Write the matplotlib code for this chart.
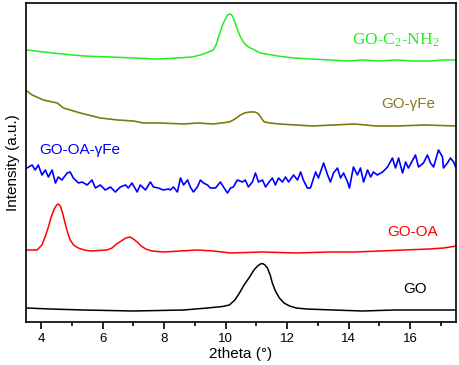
import matplotlib.pyplot as plt
from matplotlib.ticker import MultipleLocator

plt.rcParams['font.family'] = ['Liberation Sans', 'DejaVu Sans']

# XRD patterns, stacked (arbitrary intensity units)
go_x = [3.53, 4.29, 5.37, 7.00, 8.63, 9.41, 9.9, 10.12, 10.3, 10.45, 10.6, 10.78,
        10.92, 11.04, 11.13, 11.20, 11.28, 11.36, 11.45, 11.52, 11.62, 11.75,
        11.9, 12.08, 12.3, 12.63, 13.5, 14.46, 15.5, 17.52]
go_y = [14, 13, 12, 11, 12, 14, 15.5, 17, 22, 29, 37, 45, 52, 56, 58, 58.5, 57,
        54, 47, 39, 31, 24, 19, 16, 14, 13, 12, 11, 12, 12]

oa_x = [3.53, 3.86, 4.02, 4.12, 4.23, 4.32, 4.42, 4.50, 4.55, 4.62, 4.70, 4.78,
        4.86, 4.94, 5.05, 5.20, 5.40, 5.60, 6.14, 6.30, 6.45, 6.60, 6.75, 6.88,
        7.00, 7.12, 7.25, 7.40, 7.60, 7.97, 8.53, 9.07, 9.60, 10.16, 11.2, 12.31,
        13.38, 14.2, 15.01, 15.8, 16.64, 17.1, 17.52]
oa_y = [72, 72, 77, 85, 95, 105, 113, 117, 118, 116, 108, 98, 89, 82, 77, 74,
        72, 71, 72, 74, 78, 81, 84, 85, 83, 80, 76, 73, 71, 70, 71, 72, 71, 69,
        70, 69, 70, 70, 71, 72, 73, 74, 76]

oafe_x = [3.53, 3.70, 3.80, 3.90, 4.02, 4.13, 4.23, 4.35, 4.46, 4.55, 4.67, 4.84,
          4.94, 5.04, 5.21, 5.33, 5.49, 5.65, 5.76, 5.92, 6.08, 6.25, 6.41, 6.57,
          6.74, 6.83, 6.95, 7.12, 7.22, 7.39, 7.55, 7.65, 7.81, 7.97, 8.14, 8.20,
          8.30, 8.43, 8.53, 8.63, 8.76, 8.85, 8.95, 9.08, 9.18, 9.28, 9.41, 9.50,
          9.67, 9.83, 9.93, 10.06, 10.16, 10.25, 10.38, 10.55, 10.64, 10.74,
          10.87, 10.97, 11.07, 11.20, 11.30, 11.39, 11.52, 11.62, 11.72, 11.85,
          11.95, 12.05, 12.21, 12.34, 12.44, 12.53, 12.66, 12.76, 12.93, 13.02,
          13.19, 13.32, 13.41, 13.51, 13.64, 13.74, 13.84, 13.97, 14.03, 14.16,
          14.29, 14.39, 14.49, 14.62, 14.72, 14.81, 14.94, 15.11, 15.27, 15.43,
          15.53, 15.63, 15.76, 15.86, 15.95, 16.18, 16.28, 16.44, 16.57, 16.67,
          16.77, 16.93, 17.06, 17.09, 17.22, 17.32, 17.42, 17.49]
oafe_y = [154, 157, 152, 157, 147, 152, 145, 152, 139, 145, 142, 149, 150, 144,
          139, 140, 137, 142, 134, 137, 132, 135, 130, 135, 137, 134, 139, 130,
          137, 132, 140, 135, 134, 132, 133, 132, 135, 130, 144, 137, 142, 135,
          130, 135, 142, 139, 137, 134, 134, 140, 135, 129, 134, 135, 142, 140,
          142, 135, 140, 149, 140, 142, 135, 139, 144, 137, 144, 140, 145, 140,
          147, 142, 150, 142, 134, 134, 150, 144, 159, 147, 140, 149, 154, 144,
          149, 140, 134, 155, 147, 154, 140, 152, 145, 150, 147, 150, 155, 164,
          154, 164, 149, 160, 154, 167, 155, 159, 167, 159, 155, 172, 165, 154,
          159, 164, 160, 155]

fe_x = [3.53, 3.70, 4.07, 4.52, 4.72, 5.27, 5.92, 6.48, 7.00, 7.32, 7.88, 8.63,
        9.10, 9.60, 10.12, 10.25, 10.35, 10.48, 10.61, 10.78, 10.94, 11.03, 11.10,
        11.18, 11.26, 11.45, 11.75, 12.3, 12.83, 13.5, 14.20, 14.9, 15.56, 16.5,
        17.52]
fe_y = [231, 227, 222, 219, 214, 209, 204, 202, 201, 199, 199, 198, 199, 198,
        200, 202, 204, 207, 209, 210, 210, 209, 207, 203, 200, 199, 198, 197, 196,
        197, 198, 196, 196, 197, 196]

nh2_x = [3.53, 4.07, 4.68, 5.37, 6.25, 7.00, 7.78, 8.43, 8.9, 9.18, 9.45, 9.60,
         9.70, 9.80, 9.90, 9.99, 10.06, 10.15, 10.22, 10.30, 10.40, 10.50, 10.60,
         10.70, 10.81, 11.13, 11.69, 12.21, 12.8, 13.38, 14.0, 14.46, 15.0, 15.56,
         16.1, 16.64, 17.1, 17.52]
nh2_y = [272, 270, 268, 266, 265, 264, 263, 264, 265, 267, 270, 272, 278, 288,
         297, 303, 307, 308, 306, 300, 291, 284, 279, 276, 274, 269, 266, 264,
         263, 262, 261, 262, 261, 262, 261, 261, 262, 262]

fig = plt.figure(figsize=(4.59, 3.65), dpi=100)
ax = fig.add_axes([0.0566, 0.1178, 0.9369, 0.874])

ax.plot(go_x, go_y, color="black", linewidth=1.1)
ax.plot(oa_x, oa_y, color="#ff0000", linewidth=1.1)
ax.plot(oafe_x, oafe_y, color="#0000ff", linewidth=1.2)
ax.plot(fe_x, fe_y, color="#7f7a10", linewidth=1.2)
ax.plot(nh2_x, nh2_y, color="#22ee22", linewidth=1.1)

ax.text(15.53, 282, r"GO-C$\mathregular{_2}$-NH$\mathregular{_2}$", color="#22ee22",
        fontsize=12.5, family="Liberation Serif", ha="center", va="center")
ax.text(15.95, 218, "GO-γFe", color="#8a7a20", fontsize=11, ha="center", va="center")
ax.text(5.24, 172, "GO-OA-γFe", color="#0000ff", fontsize=11, ha="center", va="center")
ax.text(16.08, 90, "GO-OA", color="#ff0000", fontsize=11, ha="center", va="center")
ax.text(16.18, 33, "GO", color="black", fontsize=11, ha="center", va="center")

ax.set_xlim(3.5, 17.5)
ax.set_ylim(0, 319)
ax.xaxis.set_major_locator(MultipleLocator(2))
ax.xaxis.set_minor_locator(MultipleLocator(1))
ax.tick_params(axis="x", which="major", direction="out", length=5, width=1.2,
               labelsize=9.5, pad=3)
ax.tick_params(axis="x", which="minor", direction="out", length=3, width=1.2)
ax.set_yticks([])
for s in ax.spines.values():
    s.set_linewidth(1.2)

ax.set_xlabel("2theta (°)", fontsize=11, labelpad=1)
ax.set_ylabel("Intensity (a.u.)", fontsize=11, labelpad=4)

fig.savefig("out.png", dpi=100)
